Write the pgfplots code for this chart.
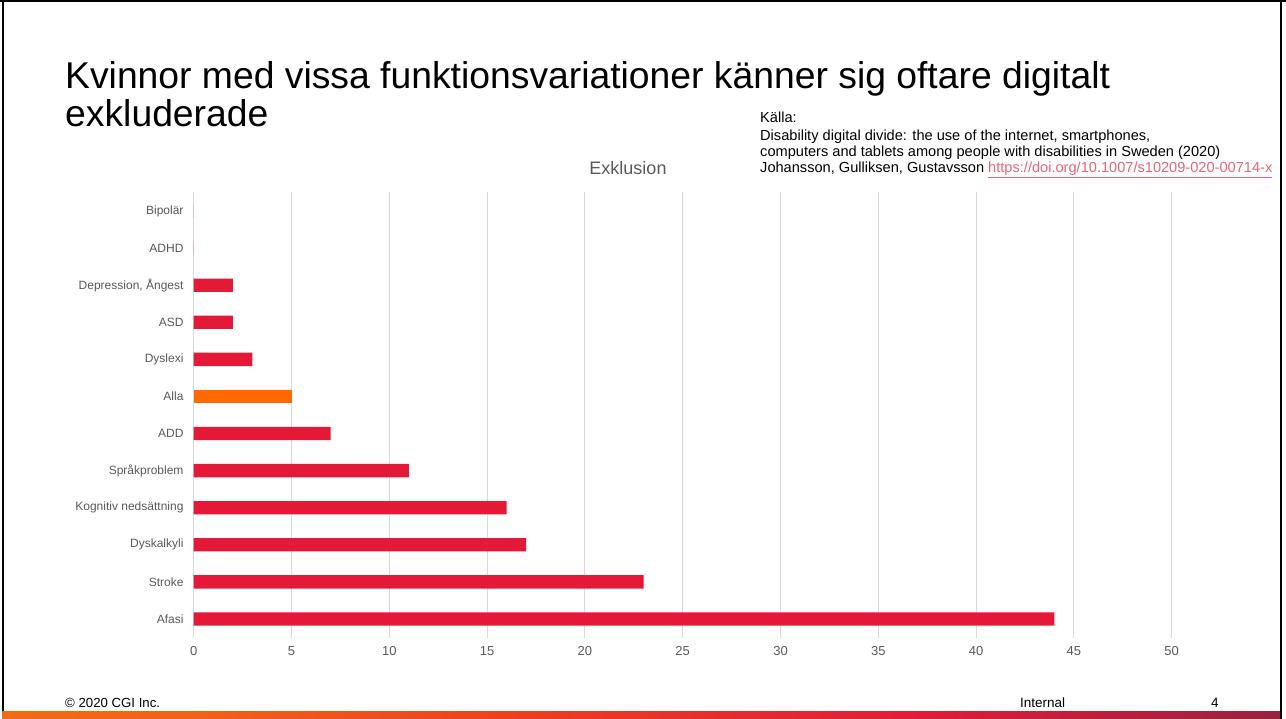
\documentclass[border=0pt]{standalone}
\usepackage{pgfplots}
\pgfplotsset{compat=1.18}
\usepackage{pgfplotstable}
\usepackage{fontspec}
\setmainfont{Liberation Sans}
\definecolor{barred}{RGB}{228,25,55}
\definecolor{barorange}{RGB}{255,106,0}
\definecolor{labgrey}{RGB}{89,89,89}
\definecolor{gridgrey}{RGB}{217,217,217}
\definecolor{linkpink}{RGB}{232,100,120}
\definecolor{g1}{RGB}{243,107,18}
\definecolor{g2}{RGB}{242,98,21}
\definecolor{g3}{RGB}{238,60,34}
\definecolor{g4}{RGB}{230,42,49}
\definecolor{g5}{RGB}{227,27,58}
\definecolor{g6}{RGB}{155,32,64}
\pgfdeclarehorizontalshading{cgigrad}{100bp}{color(0bp)=(g1); color(25bp)=(g1); color(32.5bp)=(g2); color(46bp)=(g3); color(54bp)=(g4); color(61bp)=(g5); color(75bp)=(g6); color(100bp)=(g6)}

\pgfplotstableread{
y x
0 44
1 23
2 17
3 16
4 11
5 7
7 3
8 2
9 2
10 0
11 0
}\reddata
\pgfplotstableread{
y x
6 5
}\orangedata

\begin{document}
\begin{tikzpicture}
\useasboundingbox (0pt,0pt) rectangle (1286pt,-719pt);
\fill[white] (0pt,0pt) rectangle (1286pt,-719pt);
% slide border
\draw[black, line width=2pt] (2.5pt,0pt) -- (2.5pt,-711pt);
\draw[black, line width=2pt] (1281pt,0pt) -- (1281pt,-719pt);
\draw[black, line width=1.5pt] (0pt,-1pt) -- (1286pt,-1pt);
% gradient bar
\shade[shading=cgigrad] (2pt,-711pt) rectangle (1280pt,-719pt);

% title
\node[anchor=base west, inner sep=0pt, font=\fontsize{37.3}{37.3}\selectfont] at (65pt,-89pt) {Kvinnor med vissa funktionsvariationer känner sig oftare digitalt};
\node[anchor=base west, inner sep=0pt, font=\fontsize{37.3}{37.3}\selectfont] at (65pt,-127pt) {exkluderade};

% source
\begin{scope}[every node/.style={anchor=base west, inner sep=0pt, font=\fontsize{14.6}{14.6}\selectfont}]
\node at (760pt,-123pt) {Källa:};
\node at (760pt,-141pt) {Disability digital divide: the use of the internet, smartphones,};
\node at (760pt,-157pt) {computers and tablets among people with disabilities in Sweden (2020)};
\node at (760pt,-173pt) {Johansson, Gulliksen, Gustavsson \textcolor{linkpink}{\underline{https://doi.org/10.1007/s10209-020-00714-x}}};
\end{scope}

% chart title
\node[anchor=center, inner sep=0pt, text=labgrey, font=\fontsize{18}{18}\selectfont] at (628pt,-168pt) {Exklusion};

% footer
\node[anchor=base west, inner sep=0pt, font=\fontsize{13.2}{13.2}\selectfont] at (65pt,-707pt) {© 2020 CGI Inc.};
\node[anchor=base west, inner sep=0pt, font=\fontsize{13.5}{13.5}\selectfont] at (1020pt,-707pt) {Internal};
\node[anchor=base west, inner sep=0pt, font=\fontsize{13.5}{13.5}\selectfont] at (1211pt,-707pt) {4};

\begin{axis}[
  at={(193.7pt,-637.5pt)}, anchor=south west,
  scale only axis, width=1066pt, height=445pt,
  xmin=0, xmax=54.5, ymin=-0.5, ymax=11.5,
  xbar, bar width=13.3pt, bar shift=0pt,
  xtick={0,5,...,50}, ytick={0,...,11},
  yticklabels={Afasi,Stroke,Dyskalkyli,Kognitiv nedsättning,Språkproblem,ADD,Alla,Dyslexi,ASD,{Depression, Ångest},ADHD,Bipolär},
  axis line style={draw=none}, major tick length=0pt,
  xmajorgrids, grid style={draw=gridgrey, line width=1pt},
  tick label style={text=labgrey},
  xticklabel style={font=\fontsize{13}{13}\selectfont, yshift=-5.5pt},
  yticklabel style={font=\fontsize{12}{12}\selectfont, xshift=-6.7pt},
  /pgf/number format/assume math mode=true,
  clip=false,
]
\addplot[fill=barred, draw=none] table[x=x, y=y] {\reddata};
\addplot[fill=barorange, draw=none] table[x=x, y=y] {\orangedata};
\end{axis}
\end{tikzpicture}
\end{document}
